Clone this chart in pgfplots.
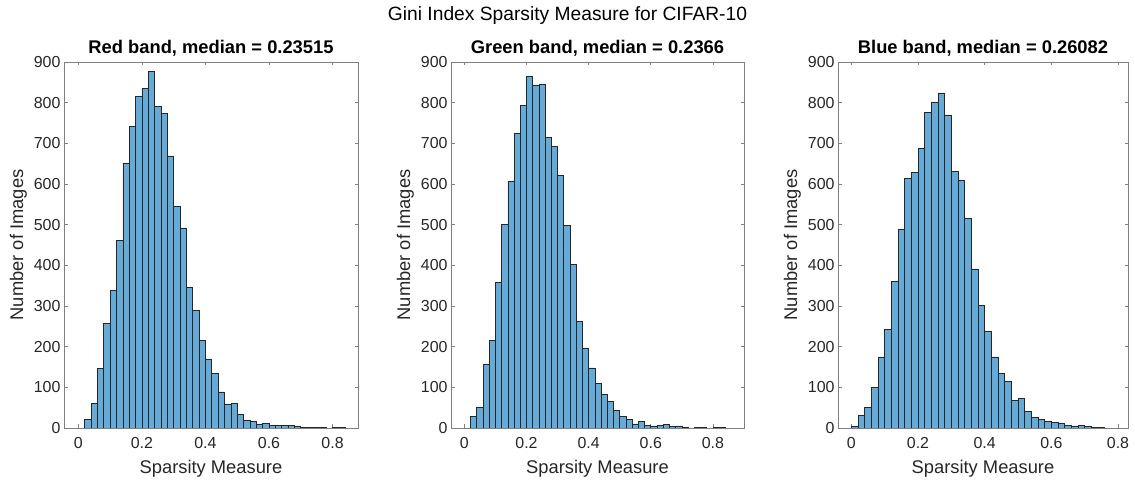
\documentclass[border=0pt]{standalone}
\usepackage{pgfplots}
\pgfplotsset{compat=1.18}
\usepackage{fontspec}
\setmainfont{Liberation Sans}
\definecolor{histfill}{rgb}{0.40,0.668,0.845}
\definecolor{txtgray}{rgb}{0.15,0.15,0.15}
\definecolor{boxgray}{rgb}{0.50,0.50,0.50}
\pgfplotsset{
  hist/.style={
    scale only axis, height=366bp,
    ymin=0, ymax=900,
    ytick={0,100,200,300,400,500,600,700,800,900},
    xtick={0,0.2,0.4,0.6,0.8},
    xticklabels={0,0.2,0.4,0.6,0.8},
    tick align=inside, major tick length=3.5bp,
    tick style={boxgray, line width=0.6bp},
    axis line style={boxgray, line width=0.7bp},
    /pgf/number format/assume math mode=true,
    ticklabel style={font=\fontsize{16}{17}\selectfont, text=txtgray},
    xticklabel style={yshift=-6bp},
    label style={font=\fontsize{18.4}{19}\selectfont, text=txtgray},
    title style={font=\fontsize{18.4}{19}\selectfont\bfseries, text=black, at={(0.5,1)}, anchor=south, yshift=-4bp},
    xlabel={Sparsity Measure},
    ylabel={Number of Images},
    xlabel style={yshift=-5bp},
    ylabel style={yshift=0bp},
    anchor=south west,
  },
  histbars/.style={ybar interval, fill=histfill, draw=black!85, line width=0.6bp}
}
\begin{document}
\begin{tikzpicture}
\useasboundingbox (0,0) rectangle (1135bp,480bp);
\node[font=\fontsize{19.3}{20}\selectfont, text=black] at (567.5bp,464bp) {Gini Index Sparsity Measure for CIFAR-10};

\begin{axis}[hist, at={(64bp,52bp)}, width=294bp, xmin=-0.045, xmax=0.88,
  title={Red band, median = 0.23515}]
\addplot[histbars] coordinates {
(0.02,21) (0.04,60) (0.06,146) (0.08,257) (0.10,339) (0.12,461) (0.14,652)
(0.16,741) (0.18,816) (0.20,835) (0.22,877) (0.24,791) (0.26,774) (0.28,669)
(0.30,544) (0.32,492) (0.34,346) (0.36,289) (0.38,216) (0.40,170) (0.42,135)
(0.44,89) (0.46,59) (0.48,61) (0.50,34) (0.52,20) (0.54,16) (0.56,10)
(0.58,12) (0.60,7) (0.62,7) (0.64,7) (0.66,7) (0.68,5) (0.70,2) (0.72,2)
(0.74,1) (0.76,1) (0.78,0) (0.80,1) (0.82,2) (0.84,0)
};
\end{axis}

\begin{axis}[hist, at={(451bp,52bp)}, width=293bp, xmin=-0.043, xmax=0.90,
  title={Green band, median = 0.2366}]
\addplot[histbars] coordinates {
(0.02,28) (0.04,52) (0.06,157) (0.08,215) (0.10,359) (0.12,501) (0.14,607)
(0.16,725) (0.18,794) (0.20,865) (0.22,843) (0.24,846) (0.26,714) (0.28,693)
(0.30,622) (0.32,498) (0.34,403) (0.36,263) (0.38,195) (0.40,148) (0.42,109)
(0.44,83) (0.46,65) (0.48,43) (0.50,29) (0.52,21) (0.54,10) (0.56,16)
(0.58,7) (0.60,5) (0.62,7) (0.64,8) (0.66,4) (0.68,5) (0.70,2) (0.72,0)
(0.74,1) (0.76,1) (0.78,0) (0.80,1) (0.82,1) (0.84,0)
};
\end{axis}

\begin{axis}[hist, at={(838bp,52bp)}, width=290bp, xmin=-0.04, xmax=0.83,
  title={Blue band, median = 0.26082}]
\addplot[histbars] coordinates {
(0.00,4) (0.02,30) (0.04,51) (0.06,99) (0.08,175) (0.10,242) (0.12,361)
(0.14,488) (0.16,613) (0.18,628) (0.20,688) (0.22,776) (0.24,802) (0.26,824)
(0.28,770) (0.30,630) (0.32,609) (0.34,515) (0.36,391) (0.38,302) (0.40,238)
(0.42,175) (0.44,134) (0.46,115) (0.48,67) (0.50,73) (0.52,41) (0.54,27)
(0.56,22) (0.58,17) (0.60,13) (0.62,12) (0.64,7) (0.66,5) (0.68,6) (0.70,3)
(0.72,1) (0.74,2) (0.76,0)
};
\end{axis}
\end{tikzpicture}
\end{document}
